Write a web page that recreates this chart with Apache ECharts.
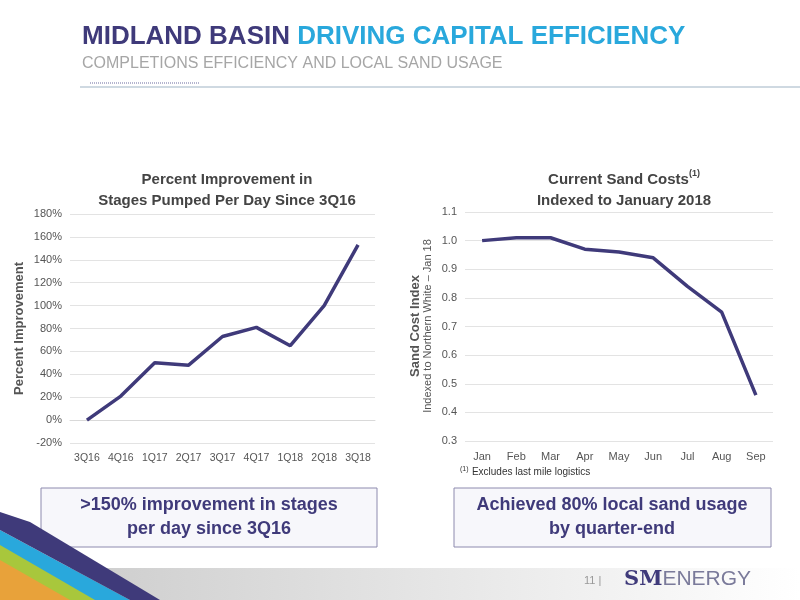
<!DOCTYPE html>
<html>
<head>
<meta charset="utf-8">
<script src="https://cdn.jsdelivr.net/npm/echarts@6/dist/echarts.min.js"></script>
<style>
html,body{margin:0;padding:0;background:#fff;}
#main{width:800px;height:600px;}
</style>
</head>
<body>
<div id="main"></div>
<script>
// data
var quarters = ["3Q16","4Q16","1Q17","2Q17","3Q17","4Q17","1Q18","2Q18","3Q18"];
var stagesImprovement = [0, 21, 50, 48, 73, 81, 65, 100, 153];
var months = ["Jan","Feb","Mar","Apr","May","Jun","Jul","Aug","Sep"];
var sandIndex = [1.00, 1.01, 1.01, 0.97, 0.96, 0.94, 0.84, 0.75, 0.46];

var purple = '#3f3a7a';
var blue = '#29a8dc';
var font = 'Liberation Sans';

var myChart = echarts.init(document.getElementById('main'));
var option = {
    textStyle: {fontFamily: font},
    title: [
        {text: 'Percent Improvement in\nStages Pumped Per Day Since 3Q16', left: 222, top: 164, textAlign: 'center',
            textStyle: {fontSize: 15, fontWeight: 'bold', color: '#444', lineHeight: 21}},
        {text: 'Current Sand Costs{s|(1)}\nIndexed to January 2018', left: 619, top: 164, textAlign: 'center',
            textStyle: {fontSize: 15, fontWeight: 'bold', color: '#444', lineHeight: 21,
                rich: {s: {fontSize: 9, fontWeight: 'bold', color: '#444', verticalAlign: 'top', padding: [0, 0, 8, 0]}}}}
    ],
    grid: [
        {left: 70, top: 214, width: 305, height: 229},
        {left: 465, top: 212, width: 308, height: 229}
    ],
    xAxis: [
        {gridIndex: 0, type: 'category', data: quarters, axisTick: {show: false},
            axisLine: {lineStyle: {color: '#d9d9d9'}}, axisLabel: {color: '#555', fontSize: 10.5, margin: 10, interval: 0}},
        {gridIndex: 1, type: 'category', data: months, axisTick: {show: false},
            axisLine: {show: false}, axisLabel: {color: '#555', fontSize: 11, margin: 10, interval: 0}}
    ],
    yAxis: [
        {gridIndex: 0, type: 'value', min: -20, max: 180, interval: 20,
            axisLabel: {formatter: '{value}%', color: '#555', fontSize: 11},
            splitLine: {lineStyle: {color: '#e3e3e3'}},
            name: 'Percent Improvement', nameLocation: 'middle', nameGap: 44,
            nameTextStyle: {fontSize: 13, fontWeight: 'bold', color: '#555'}},
        {gridIndex: 1, type: 'value', min: 0.3, max: 1.1, interval: 0.1,
            axisLabel: {formatter: function (v) { return v.toFixed(1); }, color: '#555', fontSize: 11},
            splitLine: {lineStyle: {color: '#e3e3e3'}}}
    ],
    series: [
        {type: 'line', xAxisIndex: 0, yAxisIndex: 0, data: stagesImprovement, symbol: 'none',
            lineStyle: {color: purple, width: 3.5}},
        {type: 'line', xAxisIndex: 1, yAxisIndex: 1, data: sandIndex, symbol: 'none',
            lineStyle: {color: purple, width: 3.5}}
    ],
    graphic: [
        // header
        {type: 'text', left: 82, top: 24, style: {rich: {a: {fill: purple, fontSize: 26, fontWeight: 'bold', fontFamily: font}, b: {fill: blue, fontSize: 26, fontWeight: 'bold', fontFamily: font}},
            text: '{a|MIDLAND BASIN }{b|DRIVING CAPITAL EFFICIENCY}'}},
        {type: 'text', left: 82, top: 56, style: {text: 'COMPLETIONS EFFICIENCY AND LOCAL SAND USAGE', fill: '#a6a6a6', fontSize: 16, fontFamily: font}},
        {type: 'line', shape: {x1: 80, y1: 87, x2: 800, y2: 87}, style: {stroke: '#9fb3c4', lineWidth: 1}},
        {type: 'line', shape: {x1: 90, y1: 83, x2: 200, y2: 83}, style: {stroke: '#b5b5cf', lineWidth: 2, lineDash: [1, 1]}},
        // right y axis titles
        {type: 'text', x: 415, y: 326, rotation: Math.PI / 2, style: {text: 'Sand Cost Index', fill: '#555', fontSize: 13, fontWeight: 'bold', fontFamily: font, align: 'center', verticalAlign: 'middle'}},
        {type: 'text', x: 428, y: 326, rotation: Math.PI / 2, style: {text: 'Indexed to Northern White \u2013 Jan 18', fill: '#555', fontSize: 11, fontFamily: font, align: 'center', verticalAlign: 'middle'}},
        // footnote
        {type: 'text', left: 460, top: 466, style: {rich: {s: {fontSize: 7, fill: '#333', verticalAlign: 'top'}, t: {fontSize: 10, fill: '#333'}}, text: '{s|(1)} {t|Excludes last mile logistics}', fontFamily: font}},
        // callout boxes
        {type: 'rect', shape: {x: 41, y: 488, width: 336, height: 59}, style: {fill: '#f7f7fb', stroke: '#8d8aae', lineWidth: 1}},
        {type: 'text', x: 209, y: 517, style: {text: '>150% improvement in stages\nper day since 3Q16', fill: purple, fontSize: 18, fontWeight: 'bold', fontFamily: font, align: 'center', verticalAlign: 'middle', lineHeight: 24}},
        {type: 'rect', shape: {x: 454, y: 488, width: 317, height: 59}, style: {fill: '#f7f7fb', stroke: '#8d8aae', lineWidth: 1}},
        {type: 'text', x: 612, y: 517, style: {text: 'Achieved 80% local sand usage\nby quarter-end', fill: purple, fontSize: 18, fontWeight: 'bold', fontFamily: font, align: 'center', verticalAlign: 'middle', lineHeight: 24}},
        // footer
        {type: 'rect', shape: {x: 0, y: 568, width: 800, height: 32}, style: {fill: new echarts.graphic.LinearGradient(0, 0, 1, 0, [{offset: 0, color: '#c8c8c8'}, {offset: 1, color: '#ffffff'}])}},
        {type: 'polygon', shape: {points: [[0, 530], [130, 600], [0, 600]]}, style: {fill: '#29a8dc'}},
        {type: 'polygon', shape: {points: [[0, 545], [95, 600], [0, 600]]}, style: {fill: '#a8c73c'}},
        {type: 'polygon', shape: {points: [[0, 560], [70, 600], [0, 600]]}, style: {fill: '#e8a23a'}},
        {type: 'polygon', shape: {points: [[0, 512], [30, 522], [160, 600], [130, 600], [0, 530]]}, style: {fill: purple}},
        {type: 'text', left: 584, top: 575, style: {text: '11 |', fill: '#999', fontSize: 11, fontFamily: font}},
        {type: 'text', left: 624, top: 569, style: {rich: {a: {fill: purple, fontSize: 21, fontWeight: 'bold', fontFamily: 'DejaVu Serif'}, b: {fill: '#7a7a9a', fontSize: 21, fontFamily: font}},
            text: '{a|SM}{b|ENERGY}'}}
    ]
};
myChart.setOption(option);
</script>
</body>
</html>
